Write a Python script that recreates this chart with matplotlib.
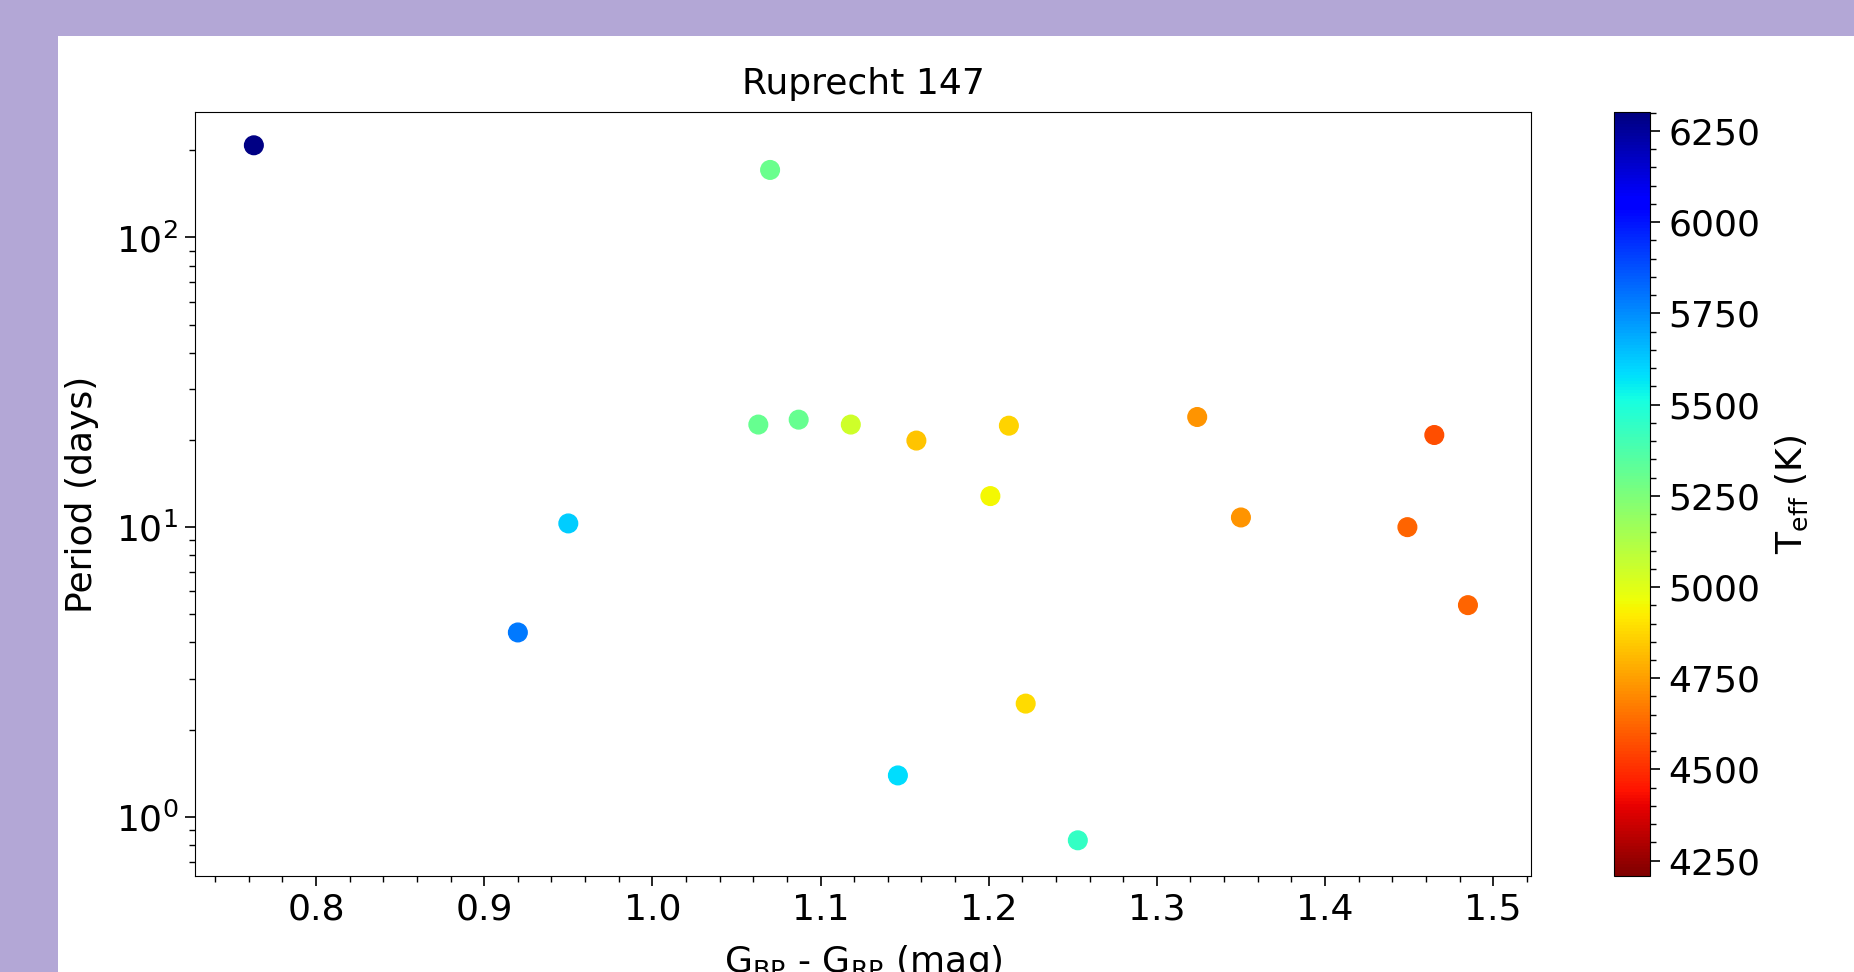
import matplotlib.pyplot as plt
import matplotlib.patches as patches
from matplotlib.ticker import AutoMinorLocator

# colour index, rotation period and effective temperature
bp_rp = [0.763, 1.070, 0.920, 0.950, 1.063, 1.087, 1.118, 1.157, 1.212,
         1.201, 1.222, 1.146, 1.253, 1.324, 1.350, 1.449, 1.465, 1.485]
period = [208, 171, 4.33, 10.3, 22.6, 23.5, 22.6, 19.9, 22.4,
          12.8, 2.46, 1.39, 0.83, 24.0, 10.8, 10.0, 20.8, 5.38]
teff = [6290, 5300, 5790, 5620, 5310, 5310, 5050, 4830, 4870,
        4950, 4880, 5590, 5440, 4725, 4725, 4620, 4570, 4620]

fs = 26

fig = plt.figure(figsize=(18.54, 9.72), dpi=100)
fig.patch.set_facecolor('#b3a7d6')
bg = patches.Rectangle((58 / 1854, 0), 1, 1 - 36 / 972,
                       transform=fig.transFigure, facecolor='white',
                       edgecolor='none', zorder=-10)
fig.add_artist(bg)

ax = fig.add_axes([195 / 1854, 1 - 876 / 972, (1531 - 195) / 1854, (876 - 112) / 972])
cax = fig.add_axes([1614 / 1854, 1 - 876 / 972, 36 / 1854, (876 - 112) / 972])

sc = ax.scatter(bp_rp, period, c=teff, cmap='jet_r', vmin=4208, vmax=6302, s=180)
ax.set_yscale('log')
ax.set_xlim(0.728, 1.5225)
ax.set_ylim(0.625, 271)
ax.xaxis.set_minor_locator(AutoMinorLocator())
ax.tick_params(labelsize=fs, length=7, width=1.2, pad=5)
ax.tick_params(which='minor', length=4, width=1)
ax.set_title('Ruprecht 147', fontsize=fs, pad=13)
ax.set_xlabel(r'G$_{\rm BP}$ - G$_{\rm RP}$ (mag)', fontsize=fs, labelpad=12)
ax.set_ylabel('Period (days)', fontsize=fs, labelpad=12)

cb = fig.colorbar(sc, cax=cax)
cb.set_ticks([4250, 4500, 4750, 5000, 5250, 5500, 5750, 6000, 6250])
cb.minorticks_on()
cb.ax.tick_params(labelsize=fs, length=7, width=1.2, pad=6)
cb.ax.tick_params(which='minor', length=4, width=1)
cb.set_label(r'T$_{\rm eff}$ (K)', fontsize=fs, labelpad=10)

fig.savefig('out.png', facecolor=fig.get_facecolor())
